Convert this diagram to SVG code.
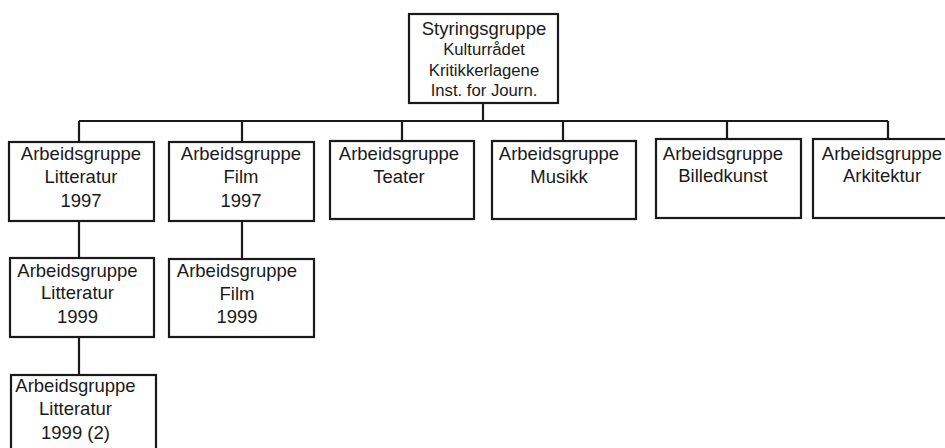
<svg xmlns="http://www.w3.org/2000/svg" width="945" height="448" viewBox="0 0 945 448">
<style>
.box{fill:#fff;stroke:#1a1a1a;stroke-width:2.2}
.ln{fill:none;stroke:#1a1a1a;stroke-width:2.2}
text{font-family:"Liberation Sans",Arial,sans-serif;font-size:18.5px;fill:#1a1a1a;text-anchor:middle}
.s{font-size:16.7px}
</style>
<rect width="945" height="448" fill="#fff"/>
<g id="connectors">
<path class="ln" d="M483,103V121M79,121H888M79,121V142M242,121V142M402,121V141M563,121V141M727,121V139M888,121V139M79,221V258M79,337V375M242,221V259"/>
</g>
<g id="styringsgruppe">
<rect class="box" x="409" y="14" width="149" height="89"/>
<text x="484" y="35">Styringsgruppe</text>
<text class="s" x="484" y="55">Kulturrådet</text>
<text class="s" x="484" y="76">Kritikkerlagene</text>
<text class="s" x="484" y="96">Inst. for Journ.</text>
</g>
<g id="litteratur1997">
<rect class="box" x="9" y="142" width="145" height="79"/>
<text x="81" y="160">Arbeidsgruppe</text>
<text x="81" y="183">Litteratur</text>
<text x="81" y="207">1997</text>
</g>
<g id="film1997">
<rect class="box" x="169" y="142" width="145" height="79"/>
<text x="241" y="160">Arbeidsgruppe</text>
<text x="241" y="183">Film</text>
<text x="241" y="207">1997</text>
</g>
<g id="teater">
<rect class="box" x="330" y="141" width="144" height="78"/>
<text x="399" y="160">Arbeidsgruppe</text>
<text x="399" y="183">Teater</text>
</g>
<g id="musikk">
<rect class="box" x="492" y="141" width="144" height="78"/>
<text x="559" y="160">Arbeidsgruppe</text>
<text x="559" y="183">Musikk</text>
</g>
<g id="billedkunst">
<rect class="box" x="656" y="139" width="145" height="79"/>
<text x="723" y="160">Arbeidsgruppe</text>
<text x="723" y="182">Billedkunst</text>
</g>
<g id="arkitektur">
<rect class="box" x="813" y="139" width="138" height="79"/>
<text x="882" y="160">Arbeidsgruppe</text>
<text x="882" y="182">Arkitektur</text>
</g>
<g id="litteratur1999">
<rect class="box" x="10" y="258" width="144" height="79"/>
<text x="77.5" y="277">Arbeidsgruppe</text>
<text x="77.5" y="299">Litteratur</text>
<text x="77.5" y="323">1999</text>
</g>
<g id="film1999">
<rect class="box" x="169" y="259" width="145" height="78"/>
<text x="237" y="277">Arbeidsgruppe</text>
<text x="237" y="300">Film</text>
<text x="237" y="323">1999</text>
</g>
<g id="litteratur1999-2">
<rect class="box" x="11" y="375" width="145" height="80"/>
<text x="75.5" y="392">Arbeidsgruppe</text>
<text x="75.5" y="415">Litteratur</text>
<text x="75.5" y="439">1999 (2)</text>
</g>
</svg>
